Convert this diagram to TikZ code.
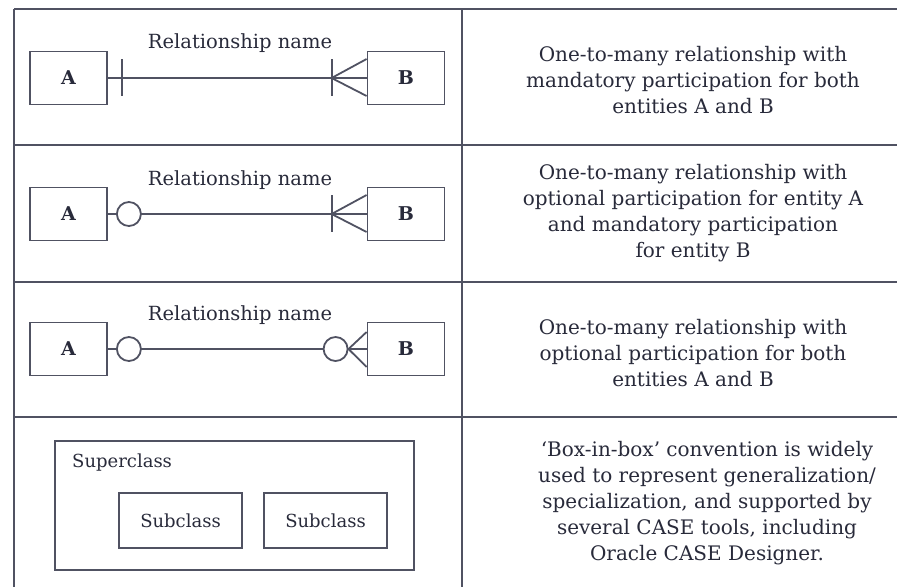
\documentclass[tikz,border=0pt]{standalone}
\usepackage{fontspec}
\setmainfont{DejaVu Serif}
\usetikzlibrary{calc}
\definecolor{inkline}{RGB}{80,82,98}
\definecolor{inktext}{RGB}{40,42,58}
\begin{document}
\begin{tikzpicture}[x=1pt, y=-1pt, line width=1.8pt, color=inkline, text=inktext,
  entity/.style={draw=inkline, fill=white, minimum width=77pt, minimum height=53pt, inner sep=0pt, font=\fontsize{19}{22}\selectfont\bfseries},
  optional/.style={circle, draw=inkline, fill=white, minimum size=24pt, inner sep=0pt},
  relname/.style={font=\fontsize{19.5}{22}\selectfont},
  subbox/.style={draw=inkline, minimum width=123pt, minimum height=55pt, inner sep=0pt, font=\fontsize{18}{20}\selectfont},
  desc/.style={align=center, font=\fontsize{20}{26}\selectfont}]
\useasboundingbox (0,0) rectangle (897,587);
% table rules
\draw (14,9) -- (897,9);
\foreach \yy in {145,282,417} \draw (14,\yy) -- (897,\yy);
\draw (14,9) -- (14,587);
\draw (462,9) -- (462,587);

% row 1: mandatory / mandatory
\node[entity] (A1) at (68.5,78) {A};
\node[entity] (B1) at (406,78) {B};
\node[relname] (R1) at (240,43) {Relationship name};
\draw (A1.east) -- (B1.west);
\draw ($(A1.east)+(14,-19)$) -- ($(A1.east)+(14,18)$);
\coordinate (F1) at ($(B1.west)+(-35,0)$);
\draw ($(F1)+(0,-19)$) -- ($(F1)+(0,18)$);
\draw (F1) -- ($(B1.west)+(0,-19)$) (F1) -- ($(B1.west)+(0,18)$);

% row 2: optional / mandatory
\node[entity] (A2) at (68.5,214) {A};
\node[entity] (B2) at (406,214) {B};
\node[relname] (R2) at (240,180) {Relationship name};
\draw (A2.east) -- (B2.west);
\node[optional] (O2) at ($(A2.east)+(21,0)$) {};
\coordinate (F2) at ($(B2.west)+(-35,0)$);
\draw ($(F2)+(0,-19)$) -- ($(F2)+(0,18)$);
\draw (F2) -- ($(B2.west)+(0,-19)$) (F2) -- ($(B2.west)+(0,18)$);

% row 3: optional / optional
\node[entity] (A3) at (68.5,349) {A};
\node[entity] (B3) at (406,349) {B};
\node[relname] (R3) at (240,315) {Relationship name};
\draw (A3.east) -- (B3.west);
\node[optional] (O3) at ($(A3.east)+(21,0)$) {};
\node[optional] (P3) at ($(B3.west)+(-31,0)$) {};
\draw (P3.east) -- ($(B3.west)+(0,-17)$) (P3.east) -- ($(B3.west)+(0,18)$);

% row 4: box-in-box
\node[draw=inkline, minimum width=359pt, minimum height=129pt, inner sep=0pt] (Sup) at (234.5,505.5) {};
\node[font=\fontsize{18}{20}\selectfont, anchor=west] (SupL) at (68,463) {Superclass};
\node[subbox] (Sub1) at (180.5,520.5) {Subclass};
\node[subbox] (Sub2) at (325.5,520.5) {Subclass};

% descriptions
\node[desc] (D1) at (693,80) {One-to-many relationship with\\mandatory participation for both\\entities A and B};
\node[desc] (D2) at (693,213) {One-to-many relationship with\\optional participation for entity A\\and mandatory participation\\for entity B};
\node[desc] (D3) at (693,353) {One-to-many relationship with\\optional participation for both\\entities A and B};
\node[desc] (D4) at (707,503) {`Box-in-box' convention is widely\\used to represent generalization/\\specialization, and supported by\\several CASE tools, including\\Oracle CASE Designer.};
\end{tikzpicture}
\end{document}
